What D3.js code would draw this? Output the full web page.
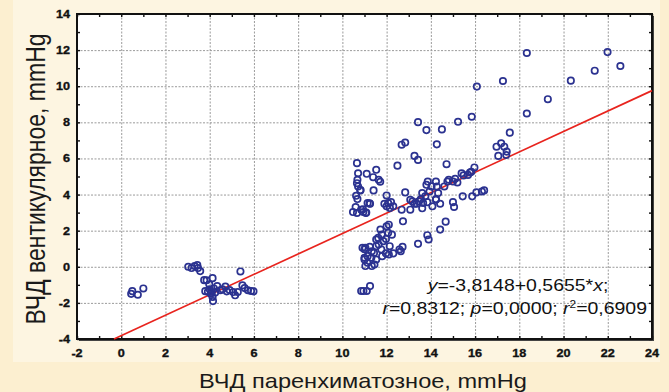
<!DOCTYPE html>
<html>
<head>
<meta charset="utf-8">
<script src="https://cdn.jsdelivr.net/npm/d3@7"></script>
<style>
	body { margin: 0; background: #fcefd0; }
	svg { display: block; }
	.tick-label { font-family: 'Liberation Sans', Arial, sans-serif; font-weight: bold; font-size: 11.5px; fill: #111; stroke: #111; stroke-width: 0.35px; }
	.axis-title { font-family: 'Liberation Sans', Arial, sans-serif; fill: #1a1a1a; }
	.note { font-family: 'Liberation Sans', Arial, sans-serif; font-size: 16.5px; fill: #111; }
</style>
</head>
<body>
<svg id="chart" width="669" height="392"></svg>
<script>
// ICP parenchymal (x) vs ventricular (y), mmHg
let pressureParenchymal = [
	0.45, 0.5, 0.75, 1.0,
	3.03, 3.18, 3.32, 3.44, 3.47, 3.57, 3.75, 3.86, 3.98, 4.13, 3.92, 4.0, 4.05, 4.13, 4.15, 4.19, 4.25, 4.34,
	4.48, 4.58, 4.71, 4.77, 4.9, 5.06, 5.15, 5.27, 5.39, 5.48, 5.58, 5.73, 5.87, 5.98, 3.8, 4.1,
	10.66, 10.71, 10.68, 10.66, 10.71, 10.81, 10.62, 10.68, 10.6, 10.48, 10.66, 10.85, 10.95, 11.06, 11.1, 11.14,
	11.25, 11.39, 11.53, 11.64, 11.41, 12.0, 11.9, 12.07, 12.2, 12.3, 12.15, 12.0, 12.49, 12.68, 12.84, 12.68,
	12.84, 12.74, 13.07, 13.17, 13.26, 13.42, 13.42, 13.8, 14.5, 14.27, 14.71, 15.23, 15.85, 16.08, 17.26, 18.34,
	18.34, 17.57, 19.29, 20.33, 21.41, 21.99, 22.57,
	16.97, 17.18, 17.32, 17.43, 17.05, 17.41,
	13.86, 13.8, 13.61, 13.55, 13.46, 13.36, 13.65, 13.75, 13.94, 14.03, 13.84, 13.61, 13.26, 13.07, 14.23, 14.27,
	14.33, 14.23, 14.42, 14.61, 14.75, 14.81, 15.0, 15.1, 15.2, 15.39, 15.48, 15.68, 15.77, 15.97, 15.83, 15.0,
	15.05, 15.44, 15.87, 16.06, 16.31, 16.41, 14.67, 14.42, 13.84, 13.9, 13.42, 14.07, 14.23,
	10.91, 11.04, 11.24, 11.0, 11.04, 11.14, 11.31, 11.33, 11.45, 11.43, 11.53, 11.62, 11.53, 11.72, 11.78, 11.64,
	11.76, 11.85, 11.97, 12.07, 12.1, 12.0, 12.14, 12.1, 11.97, 12.3, 12.24, 12.58, 12.72, 12.64, 11.33, 11.14,
	11.8, 11.53, 11.0, 11.0,
	10.85, 10.95, 11.1, 11.25,
	11.71, 10.82, 11.23, 10.93, 11.08
];
let pressureVentricular = [
	-1.5, -1.35, -1.55, -1.2,
	0.0, -0.07, 0.04, 0.09, -0.07, -0.24, -0.74, -0.75, -0.97, -0.63, -1.38, -1.25, -1.49, -1.67, -1.9, -1.2, -1.43, -1.07,
	-1.3, -1.25, -1.1, -1.36, -1.29, -1.4, -1.58, -1.4, -0.26, -1.03, -1.18, -1.3, -1.34, -1.36, -1.35, -1.4,
	5.74, 5.18, 4.82, 4.63, 4.45, 4.23, 3.93, 3.75, 3.31, 3.03, 2.98, 3.16, 3.03, 2.98, 5.15, 3.53,
	3.49, 4.96, 5.37, 4.82, 4.23, 3.95, 3.49, 3.53, 3.58, 3.35, 3.25, 3.35, 5.6, 6.76, 6.88, 3.16,
	4.12, 2.52, 3.16, 3.62, 6.14, 5.92, 8.01, 7.57, 7.61, 6.78, 5.68, 8.03, 8.31, 9.98, 10.29, 11.84,
	8.49, 7.43, 9.28, 10.31, 10.86, 11.89, 11.12,
	6.65, 6.84, 6.65, 6.38, 6.14, 6.19,
	4.72, 4.54, 4.08, 3.75, 3.62, 3.49, 3.53, 3.9, 4.17, 4.45, 3.58, 3.24, 3.49, 3.71, 4.72, 4.45,
	4.08, 3.75, 3.49, 4.45, 4.72, 4.82, 4.72, 4.87, 4.67, 5.18, 5.06, 5.09, 5.22, 5.5, 5.26, 3.58,
	3.31, 3.9, 3.9, 4.12, 4.17, 4.23, 2.5, 2.06, 1.75, 1.51, 1.27, 3.35, 3.71,
	1.05, 1.05, 1.1, 0.5, 0.04, 0.22, 0.5, 0.04, 0.13, 0.77, 1.14, 1.6, 1.51, 2.06, 1.78, 1.23,
	0.96, 1.42, 1.54, 1.88, 2.33, 2.24, 1.14, 0.68, 0.74, 0.74, 1.78, 0.96, 1.1, 0.86, 0.86, 0.59,
	0.59, 0.4, 0.97, 0.41,
	-1.34, -1.34, -1.34, -1.07,
	4.71, 4.25, 3.51, 3.18, 3.0
];
let xTicks = [-2, 0, 2, 4, 6, 8, 10, 12, 14, 16, 18, 20, 22, 24];
let yTicks = [-4, -2, 0, 2, 4, 6, 8, 10, 12, 14];
let fitIntercept = -3.8148;
let fitSlope = 0.5655;
let noteLine1 = ['y', '=-3,8148+0,5655*', 'x', ';'];
let noteLine2 = ['r', '=0,8312; ', 'p', '=0,0000; ', 'r', '2', '=0,6909'];

let svg = d3.select('#chart');
let plotLeft = 77, plotRight = 652, plotTop = 14, plotBottom = 339;
// the source picture is stretched sideways a little
let stretch = 1.18;

let x = d3.scaleLinear().domain([-2, 24]).range([plotLeft, plotRight]);
let y = d3.scaleLinear().domain([-4, 14]).range([plotBottom, plotTop]);

// lighter inner panel
svg.append('rect')
	.attr('x', 13).attr('y', 0)
	.attr('width', 647).attr('height', 362)
	.attr('fill', '#fdf5e1');

// shadow + plot area
svg.append('rect')
	.attr('x', plotLeft + 2).attr('y', plotTop + 2)
	.attr('width', plotRight - plotLeft).attr('height', plotBottom - plotTop)
	.attr('fill', '#444');
svg.append('rect')
	.attr('x', plotLeft).attr('y', plotTop)
	.attr('width', plotRight - plotLeft).attr('height', plotBottom - plotTop)
	.attr('fill', '#fff');

// grid
let grid = svg.append('g')
	.attr('stroke', '#9a9a9a')
	.attr('stroke-width', 1)
	.attr('stroke-dasharray', '2,1.5');
grid.selectAll('line.gx')
	.data(xTicks.slice(1, -1))
	.enter().append('line')
	.attr('class', 'gx')
	.attr('x1', (d) => x(d) + 0.5).attr('x2', (d) => x(d) + 0.5)
	.attr('y1', plotTop).attr('y2', plotBottom);
grid.selectAll('line.gy')
	.data(yTicks.slice(1, -1))
	.enter().append('line')
	.attr('class', 'gy')
	.attr('y1', (d) => y(d) + 0.5).attr('y2', (d) => y(d) + 0.5)
	.attr('x1', plotLeft).attr('x2', plotRight);

// axes with inward ticks (every 1 unit)
let minorX = d3.range(-2, 25, 1);
let minorY = d3.range(-4, 15, 1);
let bottomAxis = d3.axisBottom(x).tickValues(minorX).tickSize(-3).tickFormat('');
let topAxis = d3.axisTop(x).tickValues(minorX).tickSize(-3).tickFormat('');
let leftAxis = d3.axisLeft(y).tickValues(minorY).tickSize(-3).tickFormat('');
let rightAxis = d3.axisRight(y).tickValues(minorY).tickSize(-3).tickFormat('');

[
	[bottomAxis, 'translate(0,' + plotBottom + ')'],
	[topAxis, 'translate(0,' + plotTop + ')'],
	[leftAxis, 'translate(' + plotLeft + ',0)'],
	[rightAxis, 'translate(' + plotRight + ',0)']
].forEach((a) => {
	let g = svg.append('g').attr('transform', a[1]).call(a[0]);
	g.select('.domain').remove();
	g.selectAll('.tick line').attr('stroke', '#111').attr('stroke-width', 1.4);
});

// border
svg.append('rect')
	.attr('x', plotLeft).attr('y', plotTop)
	.attr('width', plotRight - plotLeft).attr('height', plotBottom - plotTop)
	.attr('fill', 'none')
	.attr('stroke', '#111')
	.attr('stroke-width', 2);

// tick labels
svg.selectAll('text.xl')
	.data(xTicks)
	.enter().append('text')
	.attr('class', 'tick-label xl')
	.attr('transform', (d) => 'translate(' + x(d) + ',' + (plotBottom + 18) + ') scale(1.1,1)')
	.attr('text-anchor', 'middle')
	.text((d) => d);
svg.selectAll('text.yl')
	.data(yTicks)
	.enter().append('text')
	.attr('class', 'tick-label yl')
	.attr('transform', (d) => 'translate(' + (plotLeft - 7) + ',' + (y(d) + 4) + ') scale(1.1,1)')
	.attr('text-anchor', 'end')
	.text((d) => d);

// regression line
let plot = svg.append('g');
let x0 = (-4 - fitIntercept) / fitSlope;
plot.append('line')
	.attr('x1', x(x0)).attr('y1', y(fitIntercept + fitSlope * x0))
	.attr('x2', x(24)).attr('y2', y(fitIntercept + fitSlope * 24))
	.attr('stroke', '#e8241e')
	.attr('stroke-width', 1.7);

// points
let points = pressureParenchymal.map((d, i) => [d, pressureVentricular[i]]);
plot.selectAll('circle')
	.data(points)
	.enter().append('circle')
	.attr('cx', (d) => x(d[0]))
	.attr('cy', (d) => y(d[1]))
	.attr('r', 3.2)
	.attr('fill', 'none')
	.attr('stroke', '#2b3290')
	.attr('stroke-width', 1.7);

// annotation
let n1 = svg.append('text').attr('class', 'note')
	.attr('transform', 'translate(518,291) scale(' + stretch + ',1)')
	.attr('text-anchor', 'middle');
noteLine1.forEach((t, i) => {
	n1.append('tspan').text(t).attr('font-style', i % 2 === 0 ? 'italic' : 'normal');
});
let n2 = svg.append('text').attr('class', 'note')
	.attr('transform', 'translate(647,314) scale(' + stretch + ',1)')
	.attr('text-anchor', 'end');
n2.append('tspan').text(noteLine2[0]).attr('font-style', 'italic');
n2.append('tspan').text(noteLine2[1]);
n2.append('tspan').text(noteLine2[2]).attr('font-style', 'italic');
n2.append('tspan').text(noteLine2[3]);
n2.append('tspan').text(noteLine2[4]).attr('font-style', 'italic');
n2.append('tspan').text(noteLine2[5]).attr('font-size', '10px').attr('dy', -6);
n2.append('tspan').text(noteLine2[6]).attr('dy', 6);

// axis titles
svg.append('text')
	.attr('class', 'axis-title')
	.attr('font-size', '23px')
	.attr('transform', 'translate(45,179) scale(' + stretch + ',1) rotate(-90)')
	.attr('text-anchor', 'middle')
	.text('ВЧД вентикулярное, mmHg');
svg.append('text')
	.attr('class', 'axis-title')
	.attr('font-size', '20px')
	.attr('transform', 'translate(363,388) scale(' + stretch + ',1)')
	.attr('text-anchor', 'middle')
	.text('ВЧД паренхиматозное, mmHg');
</script>
</body>
</html>
